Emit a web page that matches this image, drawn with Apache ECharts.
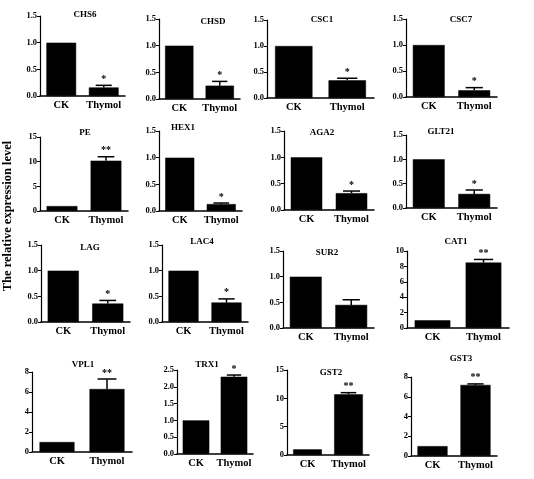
<!DOCTYPE html>
<html>
<head>
<meta charset="utf-8">
<script src="https://cdn.jsdelivr.net/npm/echarts@6/dist/echarts.min.js"></script>
<style>html,body{margin:0;padding:0;background:#fff}#c{width:534px;height:479px}</style>
</head>
<body>
<div id="c"></div>
<script>
// ---- data ----
const categories = ['CK', 'Thymol'];
const genes      = ['CHS6','CHSD','CSC1','CSC7','PE','HEX1','AGA2','GLT21','LAG','LAC4','SUR2','CAT1','VPL1','TRX1','GST2','GST3'];
const ckValues   = [1.0, 1.0, 1.0, 1.0, 1.0, 1.0, 1.0, 1.0, 1.0, 1.0, 1.0, 1.0, 1.0, 1.0, 1.0, 1.0];
const thymolValues = [0.16, 0.25, 0.34, 0.13, 10.2, 0.13, 0.32, 0.29, 0.36, 0.38, 0.45, 8.5, 6.3, 2.3, 10.7, 7.2];
const thymolErrors = [0.04, 0.08, 0.04, 0.05, 0.8, 0.02, 0.04, 0.08, 0.06, 0.07, 0.10, 0.4, 1.0, 0.05, 0.3, 0.1];
const significance = ['*','*','*','*','**','*','*','*','*','*','','**','**','*','**','**'];
const yAxisMax      = [1.5,1.5,1.5,1.5,15,1.5,1.5,1.5,1.5,1.5,1.5,10,8,2.5,15,8];
const yAxisInterval = [0.5,0.5,0.5,0.5,5,0.5,0.5,0.5,0.5,0.5,0.5,2,2,0.5,5,2];
const yAxisTitle = 'The relative expression level';

// ---- layout (pixels): left, top, width, height, titleCenterX, titleCenterY ----
const layout = [
  [40,16,85,80, 85,15],   [159,19,81,80, 213,22],  [267,20,107,78, 322,20], [406,19,91,78, 461,20],
  [40,137,88,74, 85,133], [159,131,83,80, 183,128],[284,131,90,79, 322,133],[406,135,91,73, 441,132],
  [41,245,89,77, 90,248], [162,245,86,77, 202,242],[283,251,91,77, 327,253],[407,251,102,77, 456,242],
  [32,372,100,80, 83,365],[177,370,76,84, 207,365],[287,370,82,85, 331,373],[411,377,86,79, 461,359]
];

const FONT = 'Liberation Serif';
const grid = [], xAxis = [], yAxis = [], series = [], title = [];
genes.forEach((g, i) => {
  const [l, t, w, h, tx, ty] = layout[i];
  grid.push({left: l, top: t, width: w, height: h, containLabel: false});
  title.push({text: g, left: tx, top: ty - 5, textAlign: 'center', padding: 0,
    textStyle: {fontFamily: FONT, fontWeight: 'bold', fontSize: 9, color: '#000'}});
  xAxis.push({type: 'category', gridIndex: i, data: categories,
    axisLine: {lineStyle: {color: '#000', width: 1.5}},
    axisTick: {show: false},
    axisLabel: {interval: 0, hideOverlap: false, color: '#000', fontFamily: FONT, fontWeight: 'bold', fontSize: 10.5, margin: 4}});
  const iv = yAxisInterval[i];
  yAxis.push({type: 'value', gridIndex: i, min: 0, max: yAxisMax[i], interval: iv,
    splitLine: {show: false},
    axisLine: {show: true, lineStyle: {color: '#000', width: 1.2}},
    axisTick: {show: true, length: 3, lineStyle: {color: '#000', width: 1}},
    axisLabel: {color: '#000', fontFamily: FONT, fontWeight: 'bold', fontSize: 8.5, margin: 3,
      formatter: v => iv < 1 ? v.toFixed(1) : String(v)}});
  series.push({type: 'bar', xAxisIndex: i, yAxisIndex: i, barWidth: '70%',
    data: [ckValues[i], thymolValues[i]],
    itemStyle: {color: '#000', borderColor: '#000', borderWidth: 0.5},
    silent: true, animation: false});
  series.push({type: 'custom', xAxisIndex: i, yAxisIndex: i, animation: false, silent: true,
    data: [[1, thymolValues[i], thymolErrors[i]]],
    renderItem: (params, api) => {
      const x = api.value(0), v = api.value(1), e = api.value(2);
      const base = api.coord([x, v]);
      const top = api.coord([x, v + e]);
      const bw = api.size([1, 0])[0] * 0.7;
      const cap = bw * 0.27;
      const star = significance[i];
      const children = [
        {type: 'line', shape: {x1: base[0], y1: base[1], x2: top[0], y2: top[1]}, style: {stroke: '#000', lineWidth: 1.5}},
        {type: 'line', shape: {x1: top[0] - cap, y1: top[1], x2: top[0] + cap, y2: top[1]}, style: {stroke: '#000', lineWidth: 1.5}}
      ];
      if (star) children.push({type: 'text', style: {text: star, x: top[0], y: top[1] - 1,
        align: 'center', verticalAlign: 'bottom', fill: '#000',
        font: 'bold 10px "Liberation Serif"'}});
      return {type: 'group', children};
    }});
});

const chart = echarts.init(document.getElementById('c'), null, {renderer: 'canvas'});
chart.setOption({
  animation: false,
  title, grid, xAxis, yAxis, series,
  graphic: [{type: 'text', x: 8, y: 216, rotation: Math.PI / 2,
    style: {text: yAxisTitle, fill: '#000', font: 'bold 12.5px "Liberation Serif"', align: 'center', verticalAlign: 'middle'}}]
});
</script>
</body>
</html>
